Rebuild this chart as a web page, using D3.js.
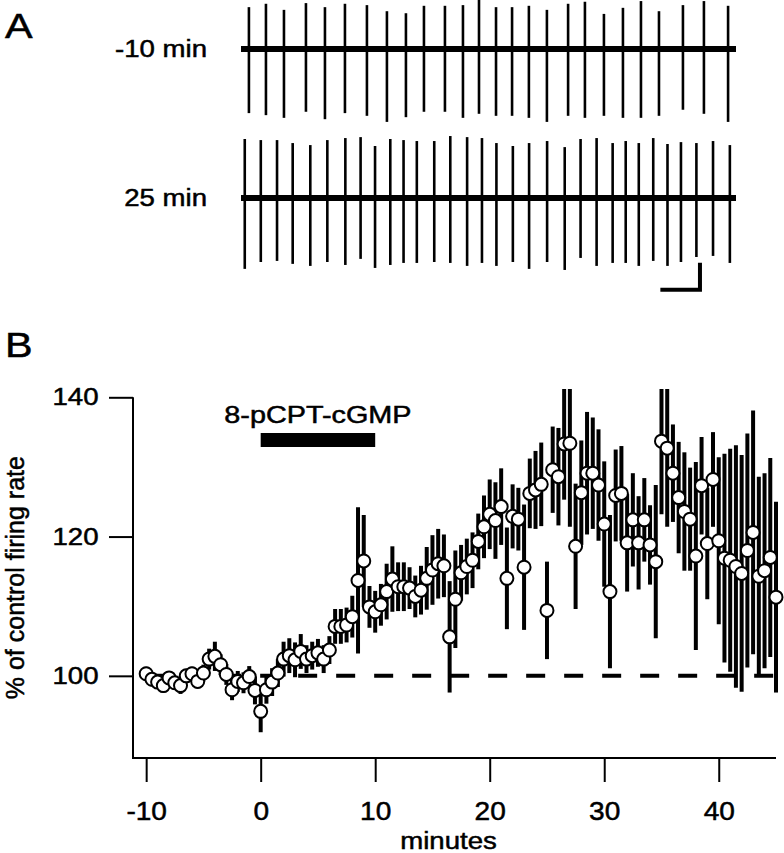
<!DOCTYPE html>
<html>
<head>
<meta charset="utf-8">
<script src="https://cdn.jsdelivr.net/npm/d3@7"></script>
<style>
  body { margin: 0; background: #fff; }
  svg { display: block; }
  text { font-family: "Liberation Sans", Arial, Helvetica, sans-serif; fill: #000; stroke: #000; stroke-width: 0.5px; }
</style>
</head>
<body>
<div id="chart"></div>
<script>
// ---- panel A: extracellular traces (spike times in ms, peak / trough in µV)
const spikeTimes1 = [40, 126, 217, 328, 424, 525, 636, 737, 833, 924, 1030, 1121, 1202, 1288,
  1369, 1454, 1545, 1652, 1737, 1833, 1929, 2020, 2111, 2232, 2338, 2460];
const spikePeaks1 = [310, 335, 290, 340, 310, 335, 325, 280, 265, 320, 320, 325, 370, 310,
  310, 320, 290, 335, 350, 260, 305, 355, 280, 325, 355, 320];
const spikeTroughs1 = [-475, -490, -510, -465, -520, -475, -495, -540, -505, -465, -465, -510, -480, -495,
  -495, -510, -540, -495, -510, -495, -510, -510, -495, -450, -480, -540];

const spikeTimes2 = [19, 100, 182, 261, 350, 436, 527, 604, 677, 754, 821, 888, 976, 1057, 1142, 1217,
  1290, 1373, 1455, 1546, 1635, 1715, 1796, 1877, 1943, 2009, 2082, 2154, 2222, 2300, 2384, 2469];
const spikePeaks2 = [437, 429, 429, 407, 392, 429, 444, 451, 385, 437, 429, 422, 422, 459, 451, 444,
  407, 385, 407, 422, 377, 437, 444, 407, 422, 407, 444, 400, 414, 407, 422, 392];
const spikeTroughs2 = [-525, -474, -466, -488, -503, -474, -496, -451, -518, -496, -481, -481, -474, -481, -503, -481,
  -503, -474, -525, -474, -533, -444, -503, -481, -481, -503, -466, -503, -474, -437, -429, -481];

const traceLabels = ["-10 min", "25 min"];

// ---- panel B: firing rate, % of control (mean and SEM)
const minutes = [-10, -9.5, -9, -8.5, -8, -7.5, -7, -6.5, -6, -5.5, -5, -4.5, -4, -3.5, -3, -2.5, -2, -1.5, -1, -0.5,
  0, 0.5, 1, 1.5, 2, 2.5, 3, 3.5, 4, 4.5, 5, 5.5, 6, 6.5, 7, 7.5, 8, 8.5, 9, 9.5,
  10, 10.5, 11, 11.5, 12, 12.5, 13, 13.5, 14, 14.5, 15, 15.5, 16, 16.5, 17, 17.5, 18, 18.5, 19, 19.5,
  20, 20.5, 21, 21.5, 22, 22.5, 23, 23.5, 24, 24.5, 25, 25.5, 26, 26.5, 27, 27.5, 28, 28.5, 29, 29.5,
  30, 30.5, 31, 31.5, 32, 32.5, 33, 33.5, 34, 34.5, 35, 35.5, 36, 36.5, 37, 37.5, 38, 38.5, 39, 39.5,
  40, 40.5, 41, 41.5, 42, 42.5, 43, 43.5, 44, 44.5, 45];
const rate = [100.3, 99.5, 99.1, 98.6, 99.7, 99.0, 98.6, 100.0, 100.3, 99.2, 100.4, 102.4, 102.8, 101.6, 100.2, 98.0, 99.2, 99.0, 99.9, 97.9,
  94.9, 98.0, 99.1, 100.4, 102.4, 102.9, 102.3, 103.5, 102.4, 102.9, 103.3, 102.4, 103.7, 107.1, 107.1, 107.3, 108.5, 113.7, 116.5, 109.9,
  109.2, 110.2, 112.1, 113.9, 112.8, 112.8, 112.6, 111.4, 112.3, 114.0, 115.2, 116.1, 115.8, 105.6, 111.0, 114.8, 115.7, 116.6, 119.3, 121.4,
  123.2, 122.3, 124.3, 114.0, 122.9, 122.5, 115.6, 126.2, 126.7, 127.5, 109.4, 129.6, 128.6, 133.3, 133.4, 118.6, 126.3, 129.1, 129.1, 127.4,
  121.8, 112.1, 125.9, 126.2, 119.1, 122.4, 119.1, 122.4, 118.8, 116.4, 133.7, 132.7, 129.1, 125.6, 123.6, 122.5, 117.2, 127.3, 119.0, 128.2,
  119.4, 116.9, 116.6, 115.7, 114.7, 118.0, 120.6, 114.3, 115.1, 117.0, 111.3];
const sem = [1.0, 1.0, 1.0, 1.0, 1.0, 1.0, 1.2, 1.0, 1.0, 1.0, 1.2, 1.5, 2.1, 1.5, 1.5, 1.5, 1.5, 1.5, 1.5, 2.0,
  3.0, 2.0, 2.0, 2.0, 2.5, 2.5, 2.5, 2.5, 2.0, 2.0, 2.0, 2.0, 2.0, 2.5, 2.5, 2.5, 3.0, 10.5, 6.6, 3.0,
  3.0, 3.0, 4.0, 4.7, 3.5, 3.5, 3.0, 3.0, 3.5, 4.5, 5.0, 5.0, 4.5, 8.0, 7.0, 4.0, 4.0, 4.0, 4.0, 4.5,
  5.0, 5.5, 5.5, 7.3, 4.6, 4.5, 9.0, 5.0, 5.6, 6.0, 7.0, 6.2, 7.0, 8.0, 12.0, 9.0, 7.5, 8.8, 8.0, 8.0,
  9.0, 11.0, 6.6, 6.8, 7.0, 6.7, 6.7, 6.0, 5.7, 11.0, 10.5, 11.3, 7.0, 8.0, 8.5, 7.4, 13.5, 7.0, 8.0, 6.8,
  12.0, 15.0, 16.0, 17.4, 17.0, 16.8, 17.5, 14.3, 14.0, 14.3, 13.7];

const xTicks = [-10, 0, 10, 20, 30, 40];
const yTicks = [100, 120, 140];
const drug = { label: "8-pCPT-cGMP", start: 0, end: 10 };
const controlLevel = 100;

const width = 784, height = 853;
const svg = d3.select("#chart").append("svg")
  .attr("width", width)
  .attr("height", height);

// stretched text helper (the figure's lettering is a little wide)
function label(g, x, y, str, size, anchor, sx) {
  return g.append("text")
    .attr("transform", `translate(${x},${y}) scale(${sx},1)`)
    .attr("text-anchor", anchor)
    .style("font-size", size + "px")
    .text(str);
}

// ---------------- panel A
label(svg, 5, 38, "A", 36, "start", 1.15);

const tx = d3.scaleLinear().domain([0, 2500]).range([241, 736]);
const traces = [
  { times: spikeTimes1, peaks: spikePeaks1, troughs: spikeTroughs1, base: 49, name: traceLabels[0] },
  { times: spikeTimes2, peaks: spikePeaks2, troughs: spikeTroughs2, base: 198, name: traceLabels[1] }
];

traces.forEach(tr => {
  const ty = d3.scaleLinear().domain([-1000, 1000]).range([tr.base + 135, tr.base - 135]);
  tr.ty = ty;
  const g = svg.append("g");
  g.append("line")
    .attr("x1", tx(0)).attr("x2", tx(2500))
    .attr("y1", ty(0)).attr("y2", ty(0))
    .attr("stroke", "#000").attr("stroke-width", 6);
  g.selectAll(".spike")
    .data(tr.times)
    .enter()
    .append("line")
    .attr("class", "spike")
    .attr("x1", d => tx(d)).attr("x2", d => tx(d))
    .attr("y1", (d, i) => ty(tr.peaks[i]))
    .attr("y2", (d, i) => ty(tr.troughs[i]))
    .attr("stroke", "#000").attr("stroke-width", 2.6);
  label(svg, 207, ty(0) + 8, tr.name, 24, "end", 1.15);
});

// scale bar: 200 ms, 200 µV
const sb = traces[1].ty;
svg.append("path")
  .attr("d", `M${tx(2118)},${sb(-680)} H${tx(2318)} V${sb(-480)}`)
  .attr("fill", "none").attr("stroke", "#000").attr("stroke-width", 4);

// ---------------- panel B
label(svg, 5, 357, "B", 36, "start", 1.15);

const x = d3.scaleLinear().domain([-11.15, 45]).range([133, 776]);
const y = d3.scaleLinear().domain([88.2, 140]).range([758, 397.3]);

const data = minutes.map((m, i) => ({ m, v: rate[i], e: sem[i] }));

// axes
const xAxis = svg.append("g")
  .attr("transform", `translate(0,${y(88.2)})`)
  .call(d3.axisBottom(x).tickValues(xTicks).tickFormat(d => String(d))
    .tickSizeInner(24).tickSizeOuter(0).tickPadding(20));
const yAxis = svg.append("g")
  .attr("transform", `translate(${x(-11.15)},0)`)
  .call(d3.axisLeft(y).tickValues(yTicks).tickFormat(d => String(d))
    .tickSizeInner(24).tickSizeOuter(0).tickPadding(6));

[xAxis, yAxis].forEach(ax => {
  ax.select(".domain").remove();
  ax.selectAll(".tick line").attr("stroke", "#000").attr("stroke-width", 2);
  ax.selectAll(".tick text")
    .style("font-size", "26px")
    .style("font-family", '"Liberation Sans", Arial, sans-serif')
    .attr("fill", "#000");
});
xAxis.selectAll(".tick text").attr("transform", "scale(1.08,1)");
yAxis.selectAll(".tick text").style("font-size", "24px").attr("transform", "scale(1.15,1)");

svg.append("path")
  .attr("d", `M${x(-11.15)},${y(140)} V${y(88.2)} H${x(45)}`)
  .attr("fill", "none").attr("stroke", "#000").attr("stroke-width", 2);

label(svg, (x(-11.15) + x(45)) / 2 - 6, 849, "minutes", 24, "middle", 1.15);

svg.append("text")
  .attr("transform", `translate(24,${(y(88.2) + y(140)) / 2}) rotate(-90)`)
  .attr("text-anchor", "middle")
  .style("font-size", "25px")
  .text("% of control firing rate");

// drug application bar
label(svg, (x(drug.start) + x(drug.end)) / 2, 423, drug.label, 24, "middle", 1.2);
svg.append("rect")
  .attr("x", x(drug.start)).attr("y", 433)
  .attr("width", x(drug.end) - x(drug.start)).attr("height", 14)
  .attr("fill", "#000");

// control level
svg.append("line")
  .attr("x1", x(-10)).attr("x2", x(45))
  .attr("y1", y(controlLevel)).attr("y2", y(controlLevel))
  .attr("stroke", "#000").attr("stroke-width", 4)
  .attr("stroke-dasharray", "19,19");

svg.append("clipPath").attr("id", "plot")
  .append("rect").attr("x", 120).attr("y", 389).attr("width", 670).attr("height", 380);

const plot = svg.append("g").attr("clip-path", "url(#plot)");

plot.selectAll(".err")
  .data(data)
  .enter()
  .append("line")
  .attr("class", "err")
  .attr("x1", d => x(d.m)).attr("x2", d => x(d.m))
  .attr("y1", d => y(d.v + d.e)).attr("y2", d => y(d.v - d.e))
  .attr("stroke", "#000").attr("stroke-width", 4);

plot.selectAll(".pt")
  .data(data)
  .enter()
  .append("circle")
  .attr("class", "pt")
  .attr("cx", d => x(d.m)).attr("cy", d => y(d.v))
  .attr("r", 6.5)
  .attr("fill", "#fff").attr("stroke", "#000").attr("stroke-width", 2);
</script>
</body>
</html>
